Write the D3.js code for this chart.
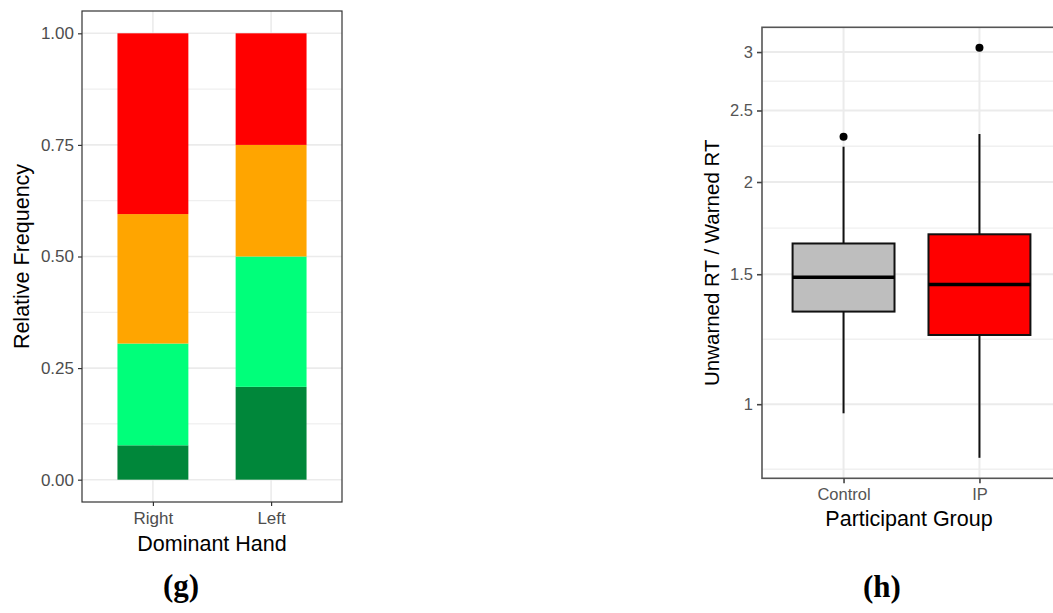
<!DOCTYPE html>
<html>
<head>
<meta charset="utf-8">
<script src="https://cdn.jsdelivr.net/npm/d3@7"></script>
<style>
  html, body { margin: 0; padding: 0; background: #fff; }
  svg { display: block; }
  text { font-family: "Liberation Sans", Arial, sans-serif; }
</style>
</head>
<body>
<svg id="fig" width="1053" height="613"></svg>
<script>
// ---- Panel (g): relative frequency by dominant hand ----
const handCategories = ["Right", "Left"];
// stacked from bottom to top: dark green, light green, orange, red
const levelKeys = ["level1", "level2", "level3", "level4"];
const levelColors = ["#00873A", "#00FF7A", "#FFA500", "#FF0000"];
const rightShares = [0.077, 0.228, 0.290, 0.405];
const leftShares = [0.208, 0.292, 0.250, 0.250];
const freqTicks = [0, 0.25, 0.5, 0.75, 1];
const freqMinor = [0.125, 0.375, 0.625, 0.875];

// ---- Panel (h): unwarned / warned RT ratio by participant group ----
const groups = ["Control", "IP"];
const groupFills = ["#BEBEBE", "#FF0000"];
const whiskerLow = [0.972, 0.846];
const q1 = [1.335, 1.241];
const median = [1.486, 1.453];
const q3 = [1.651, 1.699];
const whiskerHigh = [2.233, 2.323];
const outliers = [[2.303], [3.04]];
const ratioTicks = [1, 1.5, 2, 2.5, 3];
const ratioTickLabels = ["1", "1.5", "2", "2.5", "3"];

const svg = d3.select("#fig");
const gridColor = "#EBEBEB";

// =========================== panel (g) ===========================
(function () {
  const L = 82, R = 342, T = 11, B = 502;
  const x = d3.scalePoint().domain(handCategories).range([L, R]).padding(0.6);
  const y = d3.scaleLinear().domain([-0.05, 1.05]).range([B, T]);
  const barW = x.step() * 0.6;

  const g = svg.append("g");

  // grid
  g.selectAll(".minor").data(freqMinor).join("line")
    .attr("x1", L).attr("x2", R).attr("y1", d => y(d)).attr("y2", d => y(d))
    .attr("stroke", gridColor).attr("stroke-width", 1);
  g.selectAll(".major").data(freqTicks).join("line")
    .attr("x1", L).attr("x2", R).attr("y1", d => y(d)).attr("y2", d => y(d))
    .attr("stroke", gridColor).attr("stroke-width", 1.6);
  g.selectAll(".vgrid").data(handCategories).join("line")
    .attr("x1", d => x(d)).attr("x2", d => x(d)).attr("y1", T).attr("y2", B)
    .attr("stroke", gridColor).attr("stroke-width", 1.6);

  // stacked bars
  const rows = handCategories.map((c, i) => {
    const vals = i === 0 ? rightShares : leftShares;
    const o = { hand: c };
    levelKeys.forEach((k, j) => o[k] = vals[j]);
    return o;
  });
  const series = d3.stack().keys(levelKeys)(rows);
  g.selectAll(".layer").data(series).join("g")
    .attr("fill", (d, i) => levelColors[i])
    .selectAll("rect").data(d => d).join("rect")
      .attr("x", d => x(d.data.hand) - barW / 2)
      .attr("width", barW)
      .attr("y", d => y(d[1]))
      .attr("height", d => y(d[0]) - y(d[1]));

  // border
  g.append("rect").attr("x", L).attr("y", T).attr("width", R - L).attr("height", B - T)
    .attr("fill", "none").attr("stroke", "#333").attr("stroke-width", 1.2);

  // axes
  const ya = g.append("g").attr("transform", `translate(${L},0)`)
    .call(d3.axisLeft(y).tickValues(freqTicks).tickFormat(d3.format(".2f")).tickSize(4).tickPadding(4));
  const xa = g.append("g").attr("transform", `translate(0,${B})`)
    .call(d3.axisBottom(x).tickSize(4).tickPadding(6));
  [ya, xa].forEach(a => {
    a.select(".domain").remove();
    a.selectAll(".tick line").attr("stroke", "#333").attr("stroke-width", 1.2);
    a.selectAll(".tick text").attr("fill", "#4D4D4D").style("font-size", "17px")
      .style("font-family", "'Liberation Sans', Arial, sans-serif");
  });

  g.append("text").attr("x", (L + R) / 2).attr("y", 551).attr("text-anchor", "middle")
    .style("font-size", "21.5px").attr("fill", "#000").text("Dominant Hand");
  g.append("text").attr("transform", `translate(29,${(T + B) / 2}) rotate(-90)`)
    .attr("text-anchor", "middle").style("font-size", "21.5px").attr("fill", "#000")
    .text("Relative Frequency");

  g.append("text").attr("x", 181).attr("y", 596).attr("text-anchor", "middle")
    .style("font-family", "'Liberation Serif', 'DejaVu Serif', serif")
    .style("font-weight", "bold").style("font-size", "31px").text("(g)");
})();

// =========================== panel (h) ===========================
(function () {
  const L = 762, R = 1061, T = 27.3, B = 478.3;
  const x = d3.scalePoint().domain(groups).range([L, R]).padding(0.6);

  // log-scale limits: data range expanded by 5% on each side
  const allVals = whiskerLow.concat(whiskerHigh, outliers.flat());
  const lo = Math.log(d3.min(allVals)), hi = Math.log(d3.max(allVals));
  const pad = (hi - lo) * 0.05;
  const y = d3.scaleLog().domain([Math.exp(lo - pad), Math.exp(hi + pad)]).range([B, T]);

  // minor breaks halfway between major breaks on the log scale
  const lt = ratioTicks.map(Math.log);
  const minor = [];
  const step0 = lt[1] - lt[0];
  minor.push(Math.exp(lt[0] - step0 / 2));
  for (let i = 0; i < lt.length - 1; i++) minor.push(Math.exp((lt[i] + lt[i + 1]) / 2));

  const boxW = x.step() * 0.75;
  const g = svg.append("g");

  g.selectAll(".minor").data(minor).join("line")
    .attr("x1", L).attr("x2", R).attr("y1", d => y(d)).attr("y2", d => y(d))
    .attr("stroke", "#F0F0F0").attr("stroke-width", 1.4);
  g.selectAll(".major").data(ratioTicks).join("line")
    .attr("x1", L).attr("x2", R).attr("y1", d => y(d)).attr("y2", d => y(d))
    .attr("stroke", gridColor).attr("stroke-width", 2);
  g.selectAll(".vgrid").data(groups).join("line")
    .attr("x1", d => x(d)).attr("x2", d => x(d)).attr("y1", T).attr("y2", B)
    .attr("stroke", gridColor).attr("stroke-width", 2);

  const boxes = groups.map((gr, i) => ({
    group: gr, fill: groupFills[i], lo: whiskerLow[i], q1: q1[i], med: median[i],
    q3: q3[i], hi: whiskerHigh[i], out: outliers[i]
  }));

  const bx = g.selectAll(".box").data(boxes).join("g");
  bx.append("line")
    .attr("x1", d => x(d.group)).attr("x2", d => x(d.group))
    .attr("y1", d => y(d.q3)).attr("y2", d => y(d.hi))
    .attr("stroke", "#111").attr("stroke-width", 2);
  bx.append("line")
    .attr("x1", d => x(d.group)).attr("x2", d => x(d.group))
    .attr("y1", d => y(d.q1)).attr("y2", d => y(d.lo))
    .attr("stroke", "#111").attr("stroke-width", 2);
  bx.append("rect")
    .attr("x", d => x(d.group) - boxW / 2).attr("width", boxW)
    .attr("y", d => y(d.q3)).attr("height", d => y(d.q1) - y(d.q3))
    .attr("fill", d => d.fill).attr("stroke", "#111").attr("stroke-width", 2);
  bx.append("line")
    .attr("x1", d => x(d.group) - boxW / 2).attr("x2", d => x(d.group) + boxW / 2)
    .attr("y1", d => y(d.med)).attr("y2", d => y(d.med))
    .attr("stroke", "#000").attr("stroke-width", 3.5);
  bx.selectAll("circle").data(d => d.out.map(v => ({ group: d.group, v }))).join("circle")
    .attr("cx", d => x(d.group)).attr("cy", d => y(d.v)).attr("r", 4).attr("fill", "#000");

  // border
  g.append("rect").attr("x", L).attr("y", T).attr("width", R - L).attr("height", B - T)
    .attr("fill", "none").attr("stroke", "#555").attr("stroke-width", 1.6);

  const ya = g.append("g").attr("transform", `translate(${L},0)`)
    .call(d3.axisLeft(y).tickValues(ratioTicks)
      .tickFormat((d, i) => ratioTickLabels[i]).tickSize(5).tickPadding(4));
  const xa = g.append("g").attr("transform", `translate(0,${B})`)
    .call(d3.axisBottom(x).tickSize(5).tickPadding(5));
  [ya, xa].forEach(a => {
    a.select(".domain").remove();
    a.selectAll(".tick line").attr("stroke", "#444").attr("stroke-width", 1.6);
    a.selectAll(".tick text").attr("fill", "#555").style("font-size", "16.5px")
      .style("font-family", "'Liberation Sans', Arial, sans-serif");
  });

  g.append("text").attr("x", 909).attr("y", 526).attr("text-anchor", "middle")
    .style("font-size", "21.5px").attr("fill", "#000").text("Participant Group");
  g.append("text").attr("transform", `translate(719,${(T + B) / 2 + 10}) rotate(-90)`)
    .attr("text-anchor", "middle").style("font-size", "20.5px").attr("fill", "#000")
    .text("Unwarned RT / Warned RT");

  g.append("text").attr("x", 882).attr("y", 597).attr("text-anchor", "middle")
    .style("font-family", "'Liberation Serif', 'DejaVu Serif', serif")
    .style("font-weight", "bold").style("font-size", "31px").text("(h)");
})();
</script>
</body>
</html>
